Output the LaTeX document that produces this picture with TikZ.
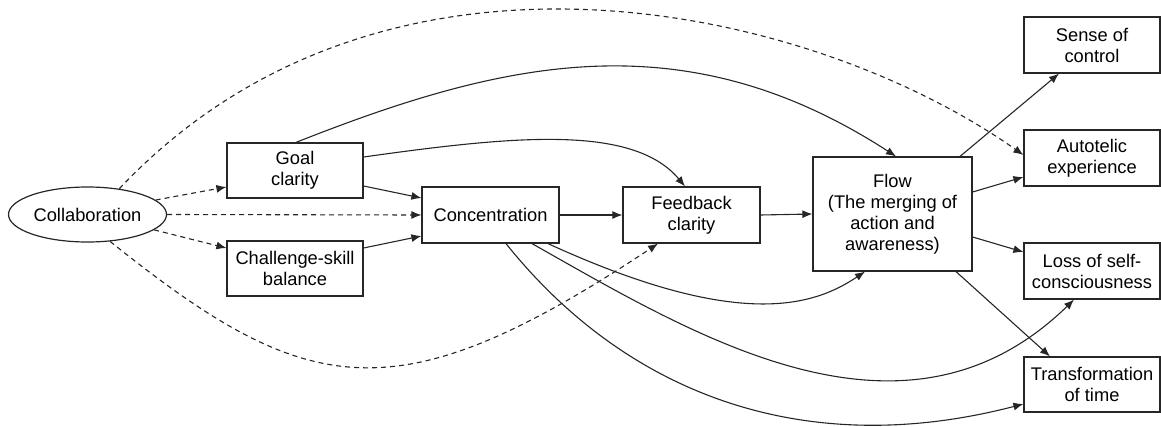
\documentclass[tikz,border=0pt]{standalone}
\usepackage{fontspec}
\setmainfont{Liberation Sans}
\usetikzlibrary{calc,arrows.meta,shapes.geometric}

\tikzset{
  box/.style={draw=black!85, line width=1.2pt, rectangle, inner sep=0pt,
              minimum width=136pt, minimum height=55pt, align=center,
              font=\fontsize{18.3}{21}\selectfont},
  oval/.style={draw=black!85, line width=1.2pt, ellipse, inner sep=0pt,
               minimum width=158pt, minimum height=55pt,
               font=\fontsize{18.3}{21}\selectfont},
  link/.style={line width=1.1pt, draw=black!85,
               -{Latex[length=10pt,width=8pt]}},
  weak/.style={link, dash pattern=on 5pt off 4pt}
}

\begin{document}
\begin{tikzpicture}[x=1pt,y=-1pt]
\useasboundingbox (0,0) rectangle (1161,426);

% nodes
\node[oval] (collab) at (87.5,214.5) {Collaboration};
\node[box] (goal) at (295,170.5) {Goal\\clarity};
\node[box] (chal) at (295,268.5) {Challenge-skill\\balance};
\node[box, minimum width=137pt, minimum height=56pt] (conc) at (490.5,215) {Concentration};
\node[box, minimum width=137pt, minimum height=56pt] (feed) at (691.5,215) {Feedback\\clarity};
\node[box, minimum width=159pt, minimum height=114pt] (flow) at (892.5,214) {Flow\\(The merging of\\action and\\awareness)};
\node[box, minimum height=56pt] (sense) at (1092,45) {Sense of\\control};
\node[box, minimum height=56pt] (auto) at (1092,158) {Autotelic\\experience};
\node[box, minimum height=56pt] (loss) at (1092,271) {Loss of self-\\consciousness};
\node[box] (trans) at (1092,384.5) {Transformation\\of time};

% collaboration links (dashed)
\draw[weak] (collab.12) -- ($(goal.west)+(0,16.5)$);
\draw[weak] (collab.-13) -- ($(chal.west)+(0,-20.5)$);
\draw[weak] (collab.east) -- (conc.west);
\draw[weak] (collab.39) .. controls (383,-91) and (809,4) .. ($(auto.west)+(0,-3)$);
\draw[weak] (collab.-50) .. controls (308,400) and (396,417) .. ($(feed.south)+(-33.5,0)$);

% antecedents
\draw[link] ($(goal.east)+(0,15.5)$) -- ($(conc.west)+(0,-17)$);
\draw[link] ($(chal.east)+(0,-20.5)$) -- ($(conc.west)+(0,21)$);
\draw[link] ($(goal.east)+(0,-13.5)$) .. controls (513,136) and (633,124) .. ($(feed.north)+(-6.5,0)$);
\draw[link] ($(goal.north)+(1,0)$) .. controls (504,60) and (684,19) .. ($(flow.north)+(3.5,0)$);
\draw[link] (conc.east) -- (feed.west);
\draw[link] (feed.east) -- (flow.west);

% concentration to outcomes
\draw[link] ($(conc.south)+(57.5,0)$) .. controls (741,332) and (815,305) .. ($(flow.south)+(-27.5,0)$);
\draw[link] ($(conc.south)+(41.5,0)$) .. controls (694,335) and (904,465) .. ($(loss.south)+(-18,0)$);
\draw[link] ($(conc.south)+(15.5,0)$) .. controls (624,391) and (800,462) .. ($(trans.west)+(0,19.5)$);

% flow to outcomes
\draw[link] ($(flow.north)+(67.5,0)$) -- ($(sense.south)+(-33,0)$);
\draw[link] ($(flow.east)+(0,-22)$) -- ($(auto.west)+(0,19)$);
\draw[link] ($(flow.east)+(0,23)$) -- ($(loss.west)+(0,-19)$);
\draw[link] ($(flow.south)+(63.5,0)$) -- ($(trans.north)+(-42,0)$);
\end{tikzpicture}
\end{document}
